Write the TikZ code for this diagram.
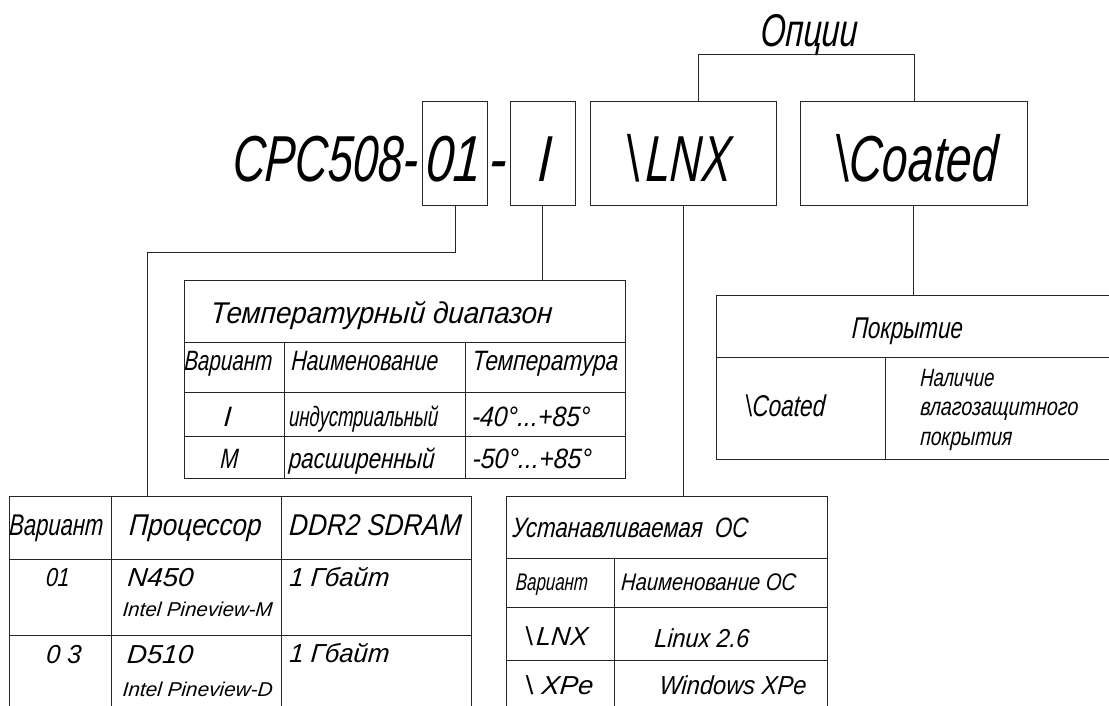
\documentclass[tikz,border=0pt]{standalone}
\usepackage{fontspec}
\setmainfont{Liberation Sans}[ItalicFeatures={FakeSlant=0.08}]
\usepackage{graphicx}
\newcommand\fw[3]{\fontsize{#2}{#2}\selectfont\resizebox{#1pt}{\height}{\itshape #3}}
\newcommand\bsl{{\upshape\textbackslash}}
\begin{document}
\begin{tikzpicture}[x=1pt,y=-1pt,
  ln/.style={draw=black!85,line width=1pt},
  box/.style={draw=black!85,line width=1pt,inner sep=0pt,outer sep=0pt,anchor=north west},
  lb/.style={anchor=base,inner sep=0pt,outer sep=0pt},
  lw/.style={anchor=base west,inner sep=0pt,outer sep=0pt}]
\fill[white] (0,0) rectangle (1109,706);
\useasboundingbox (0,0) rectangle (1109,706);

% top row boxes
\node[box,minimum width=65pt,minimum height=104.2pt] (b01) at (422.5,101.5) {};
\node[box,minimum width=64.5pt,minimum height=104.2pt] (bI) at (510.7,101.5) {};
\node[box,minimum width=185.2pt,minimum height=104.2pt] (bLNX) at (590.8,101.5) {};
\node[box,minimum width=227.1pt,minimum height=104.2pt] (bCoat) at (800.2,101.5) {};

\node[lb] (tCPC) at (325,181.7) {\fw{186}{65}{CPC508-}};
\node[lb] (t01) at (453,181.7) {\fw{56}{65}{01}};
\node[lb] (tdash) at (497.5,181.7) {\fw{17.5}{65}{-}};
\node[lb] (tI) at (544,181.7) {\fw{13.5}{65}{I}};
\node[lb] (tLNX) at (679,181.7) {\fw{104}{65}{\bsl\hspace{0.14em}LNX}};
\node[lb] (tCoat) at (916.5,181.7) {\fw{161}{65}{\bsl Coated}};

% options
\node[lb] (topt) at (809,46.7) {\fw{97}{46}{Опции}};
\coordinate (brL) at (698.3,54.3);
\coordinate (brR) at (914.3,54.3);
\draw[ln] (brL |- bLNX.north) -- (brL) -- (brR) -- (brR |- bCoat.north);

% table anchors
\coordinate (k01) at (147.3,252.5);
\coordinate (tproc) at (240,496);
\node[box,minimum width=441pt,minimum height=197.6pt] (ttemp) at (184,280.7) {};
\coordinate (tpok) at (900,295);
\coordinate (tos) at (660,496);

% connectors
\draw[ln] (b01.south) |- (k01) -- (k01 |- tproc);
\draw[ln] (bI.south) -- (bI.south |- ttemp.north);
\draw[ln] (bLNX.south) -- (bLNX.south |- tos);
\draw[ln] (bCoat.south) -- (bCoat.south |- tpok);

% temperature table
\draw[ln] (184,342.3) -- (625,342.3);
\draw[ln] (184,392.3) -- (625,392.3);
\draw[ln] (184,436.7) -- (625,436.7);
\draw[ln] (284,342.3) -- (284,478.3);
\draw[ln] (465,342.3) -- (465,478.3);
\node[lb] at (381,323.3) {\fw{342}{30}{Температурный диапазон}};
\node[lb] at (228,370) {\fw{88}{28}{Вариант}};
\node[lb] at (364.5,370) {\fw{147}{28}{Наименование}};
\node[lb] at (545,370) {\fw{146}{28}{Температура}};
\node[lb] at (227,426.7) {\fw{7.5}{28}{I}};
\node[lb] at (363.3,426.7) {\fw{149}{28}{индустриальный}};
\node[lb] at (530.5,426.7) {\fw{118}{28}{-40°...+85°}};
\node[lb] at (229,468) {\fw{18}{28}{M}};
\node[lb] at (361.5,468) {\fw{146}{28}{расширенный}};
\node[lb] at (531.5,468) {\fw{119}{28}{-50°...+85°}};

% coating table
\draw[ln] (1112,295) -- (716,295) -- (716,459) -- (1112,459);
\draw[ln] (716,357.3) -- (1112,357.3);
\draw[ln] (885,357.3) -- (885,459);
\node[lb] at (907,338.3) {\fw{111}{30}{Покрытие}};
\node[lb] at (785.3,416.7) {\fw{79}{30}{\bsl Coated}};
\node[lw] at (920,386) {\fw{74}{25}{Наличие}};
\node[lw] at (920,415.5) {\fw{158}{25}{влагозащитного}};
\node[lw] at (920,445) {\fw{92}{25}{покрытия}};

% processor table
\draw[ln] (9.3,710) -- (9.3,496) -- (471.7,496) -- (471.7,710);
\draw[ln] (9.3,559) -- (471.7,559);
\draw[ln] (9.3,635) -- (471.7,635);
\draw[ln] (111,496) -- (111,710);
\draw[ln] (281.7,496) -- (281.7,710);
\node[lb] at (56,535) {\fw{94}{30}{Вариант}};
\node[lb] at (195,535) {\fw{132}{30}{Процессор}};
\node[lb] at (375,535) {\fw{172}{30}{DDR2 SDRAM}};
\node[lb] at (57.5,586.7) {\fw{24}{26}{01}};
\node[lb] at (160,586.7) {\fw{66}{26}{N450}};
\node[lb] at (197.3,616.7) {\fw{150}{20}{Intel Pineview-M}};
\node[lb] at (339,586) {\fw{100}{26}{1 Гбайт}};
\node[lb] at (63.3,663.3) {\fw{35}{26}{0 3}};
\node[lb] at (159.7,663.3) {\fw{66}{26}{D510}};
\node[lb] at (197.3,696) {\fw{150}{20}{Intel Pineview-D}};
\node[lb] at (339,662) {\fw{100}{26}{1 Гбайт}};

% OS table
\draw[ln] (506.7,710) -- (506.7,496) -- (827.3,496) -- (827.3,710);
\draw[ln] (506.7,558.3) -- (827.3,558.3);
\draw[ln] (506.7,607.7) -- (827.3,607.7);
\draw[ln] (506.7,660) -- (827.3,660);
\draw[ln] (614.3,558.3) -- (614.3,710);
\node[lb] at (630,537.5) {\fw{236}{28}{Устанавливаемая~~ОС}};
\node[lb] at (551.7,590) {\fw{72}{24}{Вариант}};
\node[lb] at (708.3,590) {\fw{175}{24}{Наименование ОС}};
\node[lb] at (556.7,645) {\fw{62}{26}{\bsl\hspace{0.1em}LNX}};
\node[lb] at (701.5,647) {\fw{95}{26}{Linux 2.6}};
\node[lb] at (559.3,694) {\fw{67}{26}{\bsl\ XPe}};
\node[lb] at (732.5,694) {\fw{147}{26}{Windows XPe}};
\end{tikzpicture}
\end{document}
